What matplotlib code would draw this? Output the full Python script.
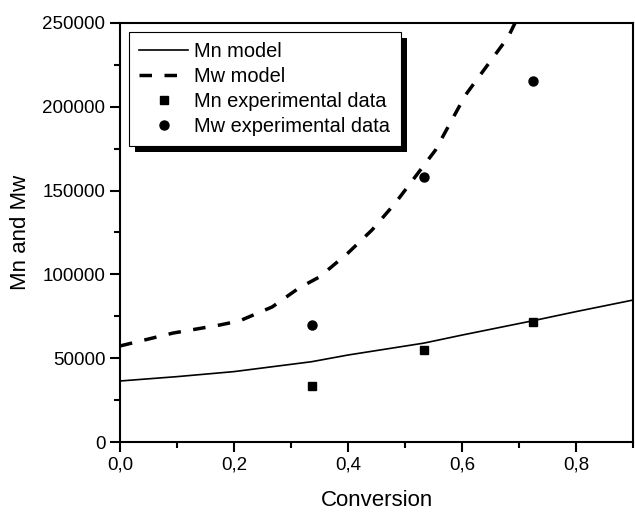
import matplotlib.pyplot as plt
from matplotlib.patches import Rectangle
from matplotlib.ticker import MultipleLocator, FuncFormatter

plt.rcParams["font.family"] = ["Liberation Sans", "DejaVu Sans"]

# model curves
mn_model_x = [0.0, 0.1, 0.2, 0.336, 0.4, 0.533, 0.6, 0.725, 0.8, 0.9]
mn_model_y = [36400, 39000, 42000, 47900, 51900, 59000, 63800, 72400, 77800, 84700]

mw_model_x = [0.0, 0.093, 0.175, 0.21, 0.267, 0.314, 0.35, 0.40, 0.442, 0.483, 0.553, 0.606, 0.681, 0.70]
mw_model_y = [57300, 65000, 69800, 72300, 80600, 91900, 98500, 112800, 126500, 142600, 174000, 207000, 241700, 255000]

# experimental points
conv_exp = [0.336, 0.533, 0.725]
mn_exp = [33600, 54900, 71800]
mw_exp = [69600, 158100, 215400]

fig = plt.figure(figsize=(6.35, 5.13), dpi=100)
ax = fig.add_axes([0.189, 0.1384, 0.808, 0.8168])

ax.plot(mn_model_x, mn_model_y, color="black", lw=1.2, label="Mn model")
ax.plot(mw_model_x, mw_model_y, color="black", lw=2.5, linestyle=(0, (3.6, 3.6)), label="Mw model")
ax.plot(conv_exp, mn_exp, "s", color="black", ms=6, label="Mn experimental data")
ax.plot(conv_exp, mw_exp, "o", color="black", ms=6.5, label="Mw experimental data")

ax.set_xlim(0, 0.9)
ax.set_ylim(0, 250000)
ax.xaxis.set_major_locator(MultipleLocator(0.2))
ax.xaxis.set_minor_locator(MultipleLocator(0.1))
ax.yaxis.set_major_locator(MultipleLocator(50000))
ax.yaxis.set_minor_locator(MultipleLocator(25000))
ax.xaxis.set_major_formatter(FuncFormatter(lambda v, p: "{:.1f}".format(v).replace(".", ",")))
ax.yaxis.set_major_formatter(FuncFormatter(lambda v, p: "{:d}".format(int(round(v)))))
ax.tick_params(which="major", direction="out", length=7, width=1.5, labelsize=13.5, color="black")
ax.tick_params(which="minor", direction="out", length=4, width=1.5)
ax.tick_params(top=False, right=False)
for s in ax.spines.values():
    s.set_linewidth(1.5)

ax.set_xlabel("Conversion", fontsize=16, labelpad=12)
ax.set_ylabel("Mn and Mw", fontsize=16, labelpad=8)

leg = ax.legend(loc="upper left", bbox_to_anchor=(0.0175, 0.9785), borderaxespad=0,
                fontsize=14.4, handlelength=2.45, handletextpad=0.3, labelspacing=0.29,
                fancybox=False, framealpha=1, edgecolor="black", borderpad=0.52)
leg.get_frame().set_linewidth(0.8)
leg.set_zorder(5)

# black drop shadow behind the legend box
fig.canvas.draw()
bb = leg.get_window_extent().transformed(fig.transFigure.inverted())
dx, dy = 6 / 635, 6 / 513
shadow = Rectangle((bb.x0 + dx, bb.y0 - dy), bb.width, bb.height, transform=fig.transFigure,
                   facecolor="black", edgecolor="none", zorder=4)
ax.add_artist(shadow)

fig.savefig("out.png", dpi=100)
